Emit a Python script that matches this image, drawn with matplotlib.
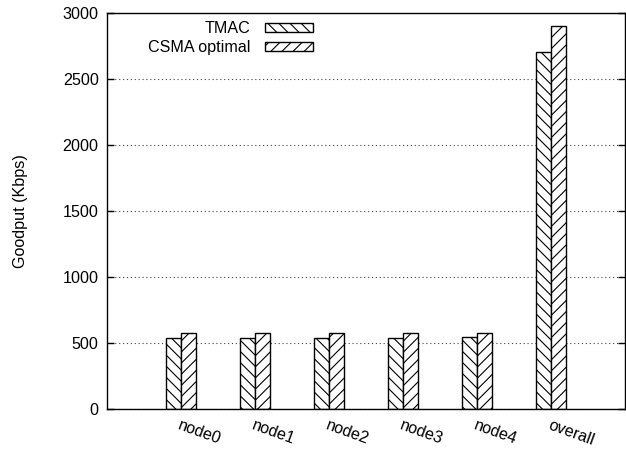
import numpy as np
import matplotlib
matplotlib.use('Agg')
import matplotlib.pyplot as plt

plt.rcParams['font.family'] = ['Liberation Sans', 'DejaVu Sans']
plt.rcParams['font.size'] = 11.6
plt.rcParams['hatch.linewidth'] = 0.8

# goodput per node and overall
categories = ['node0', 'node1', 'node2', 'node3', 'node4', 'overall']
tmac = [538, 540, 540, 538, 545, 2705]
csma_optimal = [578, 578, 578, 578, 578, 2900]

fig = plt.figure(figsize=(6.26, 4.49), dpi=100)
ax = fig.add_axes([107 / 626, 40 / 449, 518 / 626, 396 / 449])

x = np.arange(len(categories))
w = 0.2
ax.bar(x - w / 2, tmac, w, color='white', edgecolor='black', linewidth=1.0,
       hatch='\\\\\\', label='TMAC', zorder=2)
ax.bar(x + w / 2, csma_optimal, w, color='white', edgecolor='black', linewidth=1.0,
       hatch='///', label='CSMA optimal', zorder=2)

ax.set_xlim(-1, 6)
ax.set_ylim(0, 3000)
ax.set_yticks(np.arange(0, 3001, 500))
ax.set_xticks(x)
ax.set_xticklabels(categories, rotation=-20, ha='left', rotation_mode='anchor')
ax.tick_params(axis='y', direction='in', right=True, length=5, width=1.0, pad=6)
ax.tick_params(axis='x', length=0, pad=6)
ax.yaxis.grid(True, linestyle=(0, (1, 2.5)), color='#444444', linewidth=0.8, zorder=0)
ax.set_ylabel('Goodput (Kbps)', labelpad=25)

for s in ax.spines.values():
    s.set_linewidth(1.0)

leg = ax.legend(loc='upper right', bbox_to_anchor=((313 - 107) / 518, (409 - 21) / 396),
                frameon=False, markerfirst=False, handlelength=3.0, handleheight=0.45,
                labelspacing=0.25, handletextpad=0.9, borderaxespad=0, borderpad=0)
for t in leg.get_texts():
    t.set_ha('right')
leg._legend_box.align = 'right'

fig.savefig('out.png', dpi=100)
